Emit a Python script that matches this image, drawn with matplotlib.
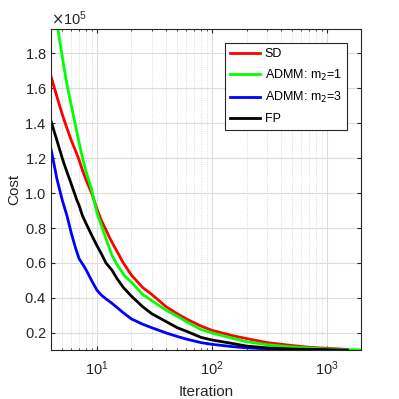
import numpy as np
import matplotlib.pyplot as plt
from matplotlib.ticker import LogLocator, ScalarFormatter, NullFormatter

plt.rcParams['font.family'] = ['Liberation Sans', 'DejaVu Sans']

# iterations and cost values (x 1e5)
it_sd = [4, 4.5, 5, 5.5, 6, 6.5, 7, 7.5, 8, 9, 10, 11, 12, 13, 14.3, 17, 20, 25, 30, 40,
         50, 60, 80, 100, 150, 200, 300, 500, 700, 1000, 1500]
cost_sd = [1.665, 1.55, 1.45, 1.37, 1.30, 1.245, 1.19, 1.13, 1.08, 1.0, 0.91, 0.84, 0.79,
           0.74, 0.69, 0.60, 0.53, 0.46, 0.42, 0.35, 0.31, 0.28, 0.24, 0.215, 0.185, 0.168,
           0.145, 0.128, 0.118, 0.112, 0.106]

it_admm1 = [4, 4.5, 5, 5.5, 6, 6.5, 7, 7.5, 8, 9, 10, 11, 12, 13.5, 15, 17.5, 20, 25, 30,
            40, 50, 60, 80, 100, 150, 200, 300, 500, 1000, 2000]
cost_admm1 = [2.2, 1.97, 1.78, 1.62, 1.50, 1.39, 1.29, 1.20, 1.13, 1.02, 0.89, 0.81, 0.74,
              0.645, 0.59, 0.525, 0.49, 0.42, 0.385, 0.33, 0.295, 0.265, 0.22, 0.20, 0.17,
              0.15, 0.133, 0.12, 0.108, 0.103]

it_admm3 = [4, 4.5, 5, 5.5, 6, 6.5, 7, 7.5, 8, 9, 10, 11, 12, 13.5, 15, 17, 20, 25, 30, 40,
            50, 60, 80, 100, 150, 200, 300, 500, 1000]
cost_admm3 = [1.25, 1.08, 0.96, 0.87, 0.77, 0.69, 0.625, 0.595, 0.565, 0.50, 0.445, 0.415,
              0.395, 0.37, 0.345, 0.315, 0.28, 0.25, 0.23, 0.20, 0.18, 0.165, 0.145, 0.135,
              0.122, 0.115, 0.109, 0.105, 0.102]

it_fp = [4, 4.5, 5, 5.3, 6, 6.7, 7, 7.5, 8, 9, 10, 11, 12, 13.5, 15, 17, 20, 25, 30, 40,
         50, 60, 80, 100, 150, 200, 300, 500, 1000, 1500]
cost_fp = [1.41, 1.30, 1.20, 1.15, 1.05, 0.96, 0.93, 0.87, 0.83, 0.76, 0.70, 0.65, 0.60,
           0.56, 0.51, 0.46, 0.41, 0.35, 0.31, 0.265, 0.23, 0.21, 0.175, 0.16, 0.14, 0.125,
           0.115, 0.108, 0.104, 0.102]

fig = plt.figure(figsize=(3.99, 3.99), dpi=100)
ax = fig.add_axes([0.128, 0.123, 0.777, 0.804])

lw = 2.0
ax.plot(it_sd, np.array(cost_sd) * 1e5, color='#ff0000', lw=lw, label='SD')
ax.plot(it_admm1, np.array(cost_admm1) * 1e5, color='#00ff00', lw=lw, label='ADMM: m$_2$=1')
ax.plot(it_admm3, np.array(cost_admm3) * 1e5, color='#0000ff', lw=lw, label='ADMM: m$_2$=3')
ax.plot(it_fp, np.array(cost_fp) * 1e5, color='#000000', lw=lw, label='FP')

ax.set_xscale('log')
ax.set_xlim(4, 1980)
ax.set_ylim(1.03e4, 1.937e5)
ax.set_yticks(np.arange(0.2, 1.81, 0.2) * 1e5)

fmt = ScalarFormatter(useMathText=True)
fmt.set_powerlimits((0, 0))
ax.yaxis.set_major_formatter(fmt)
ax.yaxis.get_offset_text().set_fontsize(10.5)
ax.yaxis.get_offset_text().set_color('#262626')

ax.xaxis.set_major_locator(LogLocator(base=10, numticks=10))
ax.xaxis.set_minor_locator(LogLocator(base=10, subs=np.arange(2, 10), numticks=20))
ax.xaxis.set_minor_formatter(NullFormatter())

ax.grid(which='major', color='#dcdcdc', lw=0.8)
ax.grid(which='minor', axis='x', color='#d0d0d0', lw=0.6, ls=':')
ax.tick_params(which='both', direction='in', top=True, right=True, labelsize=10.5,
               colors='#262626', length=3)
ax.tick_params(axis='x', which='major', pad=7)
ax.tick_params(which='minor', length=1.5)
for s in ax.spines.values():
    s.set_color('#262626')
    s.set_linewidth(0.8)

ax.set_xlabel('Iteration', fontsize=11, color='#262626', labelpad=5)
ax.set_ylabel('Cost', fontsize=11, color='#262626', labelpad=2)

leg = ax.legend(loc='upper right', bbox_to_anchor=(0.955, 0.956), borderaxespad=0,
                fontsize=9, handlelength=2.4, handletextpad=0.4, fancybox=False,
                framealpha=1, edgecolor='#262626', labelspacing=0.6)
leg.get_frame().set_linewidth(0.8)

fig.savefig('out.png', dpi=100)
